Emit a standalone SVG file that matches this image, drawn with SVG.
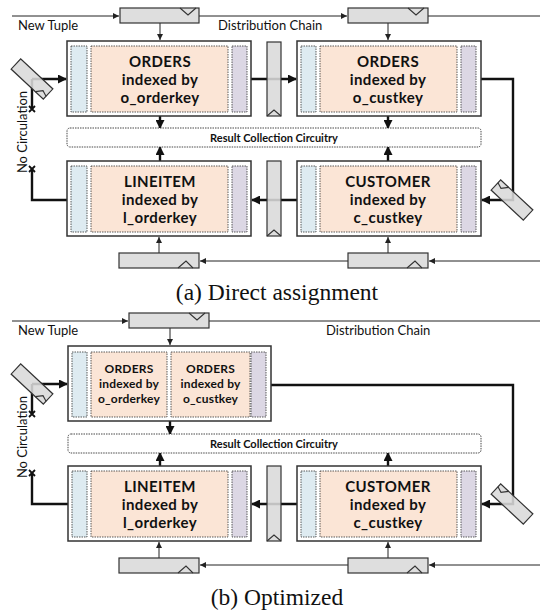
<svg xmlns="http://www.w3.org/2000/svg" width="540" height="612" viewBox="0 0 540 612">
<style>
.box{fill:#fff;stroke:#333;stroke-width:1.5}
.blue{fill:#deebf1;stroke:#333;stroke-width:0.8;stroke-dasharray:1.5 1}
.peach{fill:#fbe5d6;stroke:#333;stroke-width:0.8;stroke-dasharray:1.5 1}
.purple{fill:#dcd7e4;stroke:#333;stroke-width:0.8;stroke-dasharray:1.5 1}
.res{fill:#fff;stroke:#333;stroke-width:0.9;stroke-dasharray:1.5 1}
.reg{fill:#d9d9d9;fill-opacity:0.88;stroke:#333;stroke-width:1.2}
.notch{fill:none;stroke:#333;stroke-width:1.1}
.thin{fill:none;stroke:#222;stroke-width:1}
.thick{fill:none;stroke:#111;stroke-width:2.4}
.lbl{font-family:Lato,'Open Sans',sans-serif;font-weight:bold;font-size:15px;letter-spacing:0.4px;fill:#111;text-anchor:middle}
.lbls{font-family:Lato,'Open Sans',sans-serif;font-weight:bold;font-size:12px;letter-spacing:0.2px;fill:#111;text-anchor:middle}
.rc{font-family:Lato,'Open Sans',sans-serif;font-weight:bold;font-size:11px;fill:#111;text-anchor:middle}
.t{font-family:Lato,'Open Sans',sans-serif;font-size:13px;fill:#111}
.cap{font-family:'Liberation Serif',serif;font-size:23.5px;fill:#111;text-anchor:middle}
.xm{fill:none;stroke:#111;stroke-width:1.8}
</style>
<defs>
<marker id="ah" markerUnits="userSpaceOnUse" markerWidth="9" markerHeight="9" refX="8" refY="4.5" orient="auto"><path d="M0,0 L9,4.5 L0,9 z" fill="#111"/></marker>
<marker id="at" markerUnits="userSpaceOnUse" markerWidth="6" markerHeight="6" refX="6" refY="3" orient="auto"><path d="M0,0 L6,3 L0,6 z" fill="#222"/></marker>
<g id="envL"><rect class="reg" x="-22" y="-7" width="44" height="14"/><polyline class="notch" points="11,7 16,1 22,3"/></g>
<g id="envR"><rect class="reg" x="-22" y="-7" width="44" height="14"/><polyline class="notch" points="-22,-3 -16,-1 -11,-7"/></g>
</defs>

<!-- connectors -->
<g id="connectors">
<!-- (a) -->
<path class="thin" d="M12,16 L119,16" marker-end="url(#at)"/>
<path class="thin" d="M199,16 L347,16" marker-end="url(#at)"/>
<path class="thin" d="M428,16 L540,16"/>
<path class="thin" d="M160,23 L160,40" marker-end="url(#at)"/>
<path class="thin" d="M388,23 L388,40" marker-end="url(#at)"/>
<path class="thick" d="M251,79 L296,79" marker-end="url(#ah)"/>
<path class="thick" d="M160,116 L160,128" marker-end="url(#ah)"/>
<path class="thick" d="M388,116 L388,128" marker-end="url(#ah)"/>
<path class="thick" d="M160,161 L160,147" marker-end="url(#ah)"/>
<path class="thick" d="M388,161 L388,147" marker-end="url(#ah)"/>
<path class="thick" d="M297,200 L252,200" marker-end="url(#ah)"/>
<path class="thin" d="M540,261 L429,261" marker-end="url(#at)"/>
<path class="thin" d="M348,261 L200,261" marker-end="url(#at)"/>
<path class="thin" d="M159,253 L159,237" marker-end="url(#at)"/>
<path class="thin" d="M388,253 L388,237" marker-end="url(#at)"/>
<path class="thick" d="M481,79 L513,79 L513,200 L482,200" marker-end="url(#ah)"/>
<path class="thick" d="M32,79 L66,79" marker-end="url(#ah)"/>
<path class="thick" d="M32,79 L32,109"/>
<path class="xm" d="M29,106 L35,112 M35,106 L29,112"/>
<path class="thick" d="M67,200 L32,200 L32,169"/>
<path class="xm" d="M29,166 L35,172 M35,166 L29,172"/>
<!-- (b) -->
<path class="thin" d="M12,321 L128,321" marker-end="url(#at)"/>
<path class="thin" d="M209,321 L540,321"/>
<path class="thin" d="M170,328 L170,345" marker-end="url(#at)"/>
<path class="thick" d="M271,385 L513,385 L513,504 L482,504" marker-end="url(#ah)"/>
<path class="thick" d="M170,421 L170,434" marker-end="url(#ah)"/>
<path class="thick" d="M160,466 L160,453" marker-end="url(#ah)"/>
<path class="thick" d="M388,466 L388,453" marker-end="url(#ah)"/>
<path class="thick" d="M297,504 L252,504" marker-end="url(#ah)"/>
<path class="thin" d="M540,565 L429,565" marker-end="url(#at)"/>
<path class="thin" d="M348,565 L200,565" marker-end="url(#at)"/>
<path class="thin" d="M159,558 L159,542" marker-end="url(#at)"/>
<path class="thin" d="M388,558 L388,542" marker-end="url(#at)"/>
<path class="thick" d="M32,384 L67,384" marker-end="url(#ah)"/>
<path class="thick" d="M32,384 L32,414"/>
<path class="xm" d="M29,411 L35,417 M35,411 L29,417"/>
<path class="thick" d="M68,504 L32,504 L32,473"/>
<path class="xm" d="M29,470 L35,476 M35,470 L29,476"/>
</g>

<!-- (a) Direct assignment -->
<text class="t" x="18" y="30">New Tuple</text>
<text class="t" x="218" y="30">Distribution Chain</text>

<g id="a-reg1"><rect class="reg" x="120" y="8" width="79" height="15"/><polyline class="notch" points="180,8 188,15 196,8"/></g>
<g id="a-reg2"><rect class="reg" x="348" y="8" width="80" height="15"/><polyline class="notch" points="408,8 416,15 424,8"/></g>

<g id="a-orders1">
<rect class="box" x="67" y="41" width="184" height="75"/>
<rect class="blue" x="71" y="46" width="16" height="66"/>
<rect class="peach" x="91" y="46" width="137" height="66"/>
<rect class="purple" x="232" y="46" width="15" height="66"/>
<text class="lbl" x="160" y="67">ORDERS</text>
<text class="lbl" x="160" y="85">indexed by</text>
<text class="lbl" x="160" y="103">o_orderkey</text>
</g>

<g id="a-orders2">
<rect class="box" x="297" y="41" width="184" height="75"/>
<rect class="blue" x="301" y="46" width="15" height="66"/>
<rect class="peach" x="320" y="46" width="137" height="66"/>
<rect class="purple" x="461" y="46" width="15" height="66"/>
<text class="lbl" x="388" y="67">ORDERS</text>
<text class="lbl" x="388" y="85">indexed by</text>
<text class="lbl" x="388" y="103">o_custkey</text>
</g>

<g id="a-vreg1"><rect class="reg" x="267" y="42" width="14" height="74"/><polyline class="notch" points="267,116 274,110 281,116"/></g>

<g id="a-result">
<rect class="res" x="67" y="128" width="414" height="19" rx="3"/>
<text class="rc" x="274" y="141.5">Result Collection Circuitry</text>
</g>

<g id="a-lineitem">
<rect class="box" x="67" y="161" width="184" height="75"/>
<rect class="blue" x="71" y="166" width="16" height="66"/>
<rect class="peach" x="91" y="166" width="137" height="66"/>
<rect class="purple" x="232" y="166" width="15" height="66"/>
<text class="lbl" x="160" y="187">LINEITEM</text>
<text class="lbl" x="160" y="205">indexed by</text>
<text class="lbl" x="160" y="223">l_orderkey</text>
</g>

<g id="a-customer">
<rect class="box" x="297" y="161" width="184" height="75"/>
<rect class="blue" x="301" y="166" width="15" height="66"/>
<rect class="peach" x="320" y="166" width="137" height="66"/>
<rect class="purple" x="461" y="166" width="15" height="66"/>
<text class="lbl" x="388" y="187">CUSTOMER</text>
<text class="lbl" x="388" y="205">indexed by</text>
<text class="lbl" x="388" y="223">c_custkey</text>
</g>

<g id="a-vreg2"><rect class="reg" x="267" y="161" width="14" height="75"/><polyline class="notch" points="267,236 274,230 281,236"/></g>

<g id="a-reg3"><rect class="reg" x="119" y="253" width="80" height="15"/><polyline class="notch" points="178,268 186,261 193,268"/></g>
<g id="a-reg4"><rect class="reg" x="348" y="253" width="80" height="15"/><polyline class="notch" points="407,268 415,261 422,268"/></g>

<g id="a-envL"><use href="#envL" transform="translate(32,79) rotate(43)"/></g>
<g id="a-envR"><use href="#envR" transform="translate(512,200) rotate(43)"/></g>

<text class="t" transform="translate(27,132) rotate(-90)" text-anchor="middle">No Circulation</text>

<text class="cap" x="277" y="300">(a) Direct assignment</text>

<!-- (b) Optimized -->
<text class="t" x="18" y="335">New Tuple</text>
<text class="t" x="326" y="335">Distribution Chain</text>

<g id="b-reg1"><rect class="reg" x="129" y="313" width="80" height="15"/><polyline class="notch" points="189,313 197,320 205,313"/></g>

<g id="b-orders">
<rect class="box" x="68" y="346" width="203" height="75"/>
<rect class="blue" x="72" y="352" width="15" height="65"/>
<rect class="peach" x="91" y="352" width="76" height="65"/>
<rect class="peach" x="171" y="352" width="79" height="65"/>
<rect class="purple" x="251" y="352" width="15" height="65"/>
<text class="lbls" x="129" y="373">ORDERS</text>
<text class="lbls" x="129" y="388">indexed by</text>
<text class="lbls" x="129" y="403">o_orderkey</text>
<text class="lbls" x="210.5" y="373">ORDERS</text>
<text class="lbls" x="210.5" y="388">indexed by</text>
<text class="lbls" x="210.5" y="403">o_custkey</text>
</g>

<g id="b-result">
<rect class="res" x="68" y="434" width="413" height="19" rx="3"/>
<text class="rc" x="274" y="447.5">Result Collection Circuitry</text>
</g>

<g id="b-lineitem">
<rect class="box" x="68" y="466" width="183" height="75"/>
<rect class="blue" x="72" y="471" width="15" height="66"/>
<rect class="peach" x="91" y="471" width="137" height="66"/>
<rect class="purple" x="232" y="471" width="15" height="66"/>
<text class="lbl" x="160" y="492">LINEITEM</text>
<text class="lbl" x="160" y="510">indexed by</text>
<text class="lbl" x="160" y="528">l_orderkey</text>
</g>

<g id="b-customer">
<rect class="box" x="297" y="466" width="184" height="75"/>
<rect class="blue" x="301" y="471" width="15" height="66"/>
<rect class="peach" x="320" y="471" width="137" height="66"/>
<rect class="purple" x="461" y="471" width="15" height="66"/>
<text class="lbl" x="388" y="492">CUSTOMER</text>
<text class="lbl" x="388" y="510">indexed by</text>
<text class="lbl" x="388" y="528">c_custkey</text>
</g>

<g id="b-vreg"><rect class="reg" x="267" y="466" width="14" height="75"/><polyline class="notch" points="267,541 274,535 281,541"/></g>

<g id="b-reg2"><rect class="reg" x="119" y="558" width="80" height="15"/><polyline class="notch" points="178,573 186,566 193,573"/></g>
<g id="b-reg3"><rect class="reg" x="348" y="558" width="80" height="15"/><polyline class="notch" points="407,573 415,566 422,573"/></g>

<g id="b-envL"><use href="#envL" transform="translate(32,384) rotate(43)"/></g>
<g id="b-envR"><use href="#envR" transform="translate(512,504) rotate(43)"/></g>

<text class="t" transform="translate(27,437) rotate(-90)" text-anchor="middle">No Circulation</text>

<text class="cap" x="277" y="605">(b) Optimized</text>
</svg>
